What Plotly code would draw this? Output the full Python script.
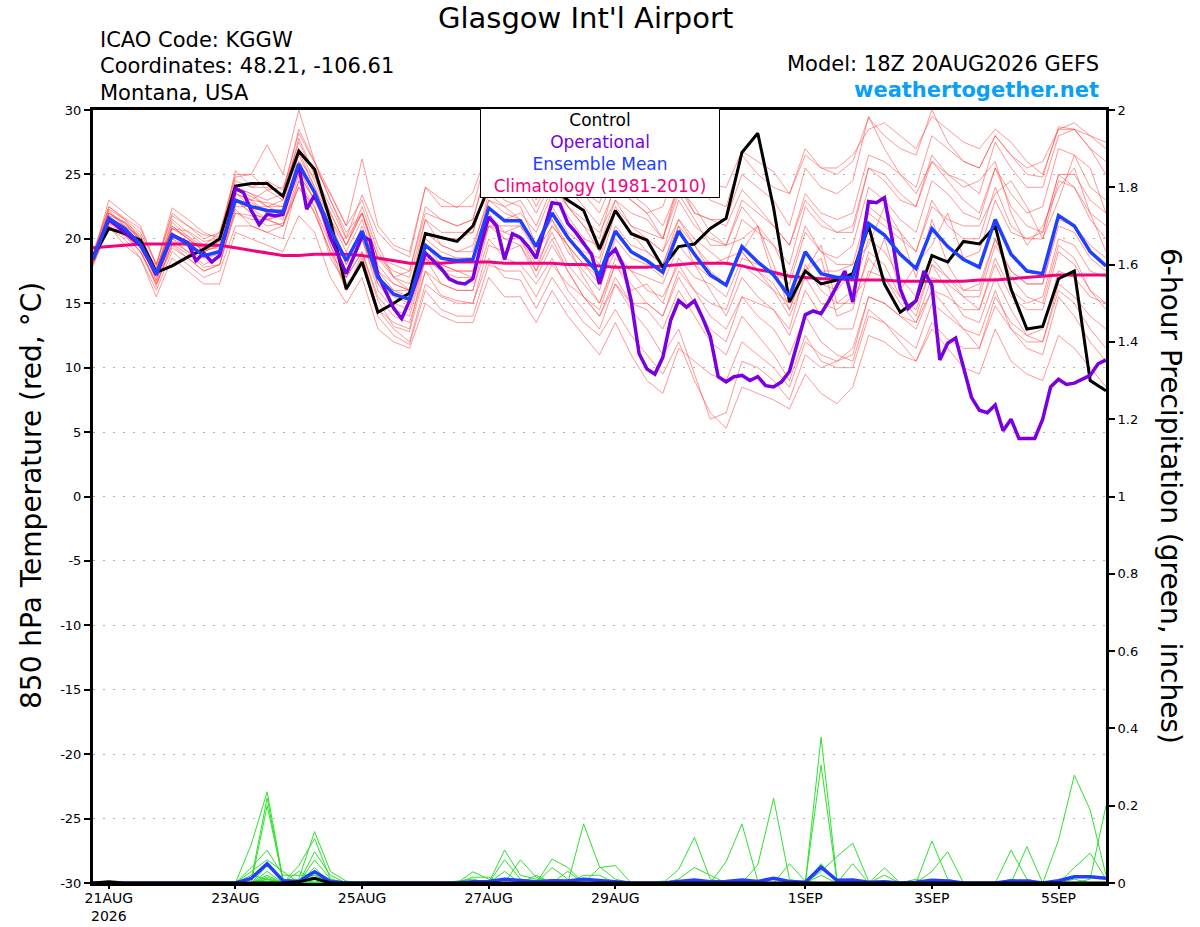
import pandas as pd
import plotly.graph_objects as go

# GEFS run 18Z 20AUG2026, 6-hourly steps out to 16 days (operational is 3-hourly)
times = pd.date_range("2026-08-20 18:00", periods=65, freq="6h")
op_times = pd.date_range("2026-08-20 18:00", periods=129, freq="3h")

# 850 hPa temperature (deg C)
control = [18.6, 20.8, 20.4, 19.9, 17.4, 17.9, 18.6, 19.2, 20.0, 24.1,
           24.3, 24.3, 23.3, 26.8, 25.4, 21.4, 16.1, 18.2, 14.3, 15.0,
           15.8, 20.4, 20.1, 19.8, 21.0, 24.0, 25.0, 24.5, 25.0, 24.0,
           23.0, 22.2, 19.2, 22.2, 20.4, 19.9, 17.8, 19.4, 19.6, 20.8,
           21.6, 26.7, 28.2, 22.4, 15.1, 17.5, 16.5, 16.8, 17.3, 21.0,
           16.5, 14.3, 15.2, 18.7, 18.2, 19.8, 19.6, 21.0, 16.1, 13.0,
           13.2, 16.9, 17.5, 9.0, 8.2]

ens_mean = [18.4, 21.6, 20.8, 19.6, 17.3, 20.3, 19.6, 18.7, 19.0, 23.0,
            22.5, 22.2, 22.1, 25.8, 23.6, 20.7, 18.3, 20.6, 17.0, 15.7,
            15.3, 19.5, 18.5, 18.3, 18.4, 22.4, 21.4, 21.4, 19.4, 22.0,
            20.1, 18.6, 17.2, 20.6, 19.0, 18.3, 17.4, 20.6, 18.8, 17.2,
            16.4, 19.4, 18.2, 17.2, 15.5, 19.0, 17.3, 17.0, 17.0, 21.2,
            20.3, 18.8, 17.7, 20.8, 19.4, 18.4, 17.8, 21.5, 18.8, 17.5,
            17.3, 21.8, 21.0, 19.0, 17.9]

climatology = [19.3, 19.4, 19.5, 19.6, 19.6, 19.6, 19.6, 19.5, 19.5, 19.3,
               19.1, 18.9, 18.7, 18.7, 18.8, 18.8, 18.8, 18.7, 18.5, 18.3,
               18.1, 18.1, 18.1, 18.2, 18.2, 18.2, 18.1, 18.1, 18.1, 18.1,
               18.0, 18.0, 17.9, 17.8, 17.8, 17.8, 17.9, 18.0, 18.1, 18.1,
               18.1, 17.9, 17.6, 17.4, 17.1, 17.0, 16.9, 16.9, 16.8, 16.8,
               16.8, 16.7, 16.7, 16.7, 16.7, 16.7, 16.8, 16.8, 16.9, 17.0,
               17.1, 17.2, 17.2, 17.2, 17.2]

operational = [18.5, 20.0, 21.5, 21.0, 20.5, 20.0, 19.5, 18.4, 17.2, 18.7,
               20.3, 20.0, 19.7, 18.3, 18.9, 18.2, 18.7, 21.0, 23.9, 23.6,
               22.2, 21.1, 21.9, 21.8, 21.9, 23.8, 25.7, 22.3, 23.4, 22.0,
               20.1, 18.7, 17.3, 18.7, 20.2, 19.9, 17.2, 15.9, 14.6, 13.8,
               15.2, 17.0, 18.9, 18.3, 17.7, 16.9, 16.6, 16.5, 16.9, 19.5,
               21.7, 21.0, 18.4, 20.4, 20.1, 19.4, 18.5, 20.7, 22.8, 22.7,
               21.2, 20.5, 19.7, 18.8, 16.5, 18.6, 19.2, 17.9, 15.2, 11.1,
               9.9, 9.5, 10.8, 13.7, 15.2, 14.7, 15.2, 13.9, 12.4, 9.3,
               8.9, 9.3, 9.4, 9.0, 9.3, 8.6, 8.5, 8.9, 9.7, 11.9,
               14.1, 14.4, 14.2, 15.2, 16.3, 17.5, 15.1, 19.0, 22.9, 22.8,
               23.2, 19.9, 16.1, 14.6, 15.2, 17.5, 16.4, 10.6, 11.9, 12.3,
               10.0, 7.7, 6.7, 6.5, 7.1, 5.1, 6.0, 4.5, 4.5, 4.5,
               6.0, 8.5, 9.1, 8.7, 8.8, 9.1, 9.4, 10.3, 10.6]

members = [
    [18.5, 22.0, 21.0, 20.2, 17.6, 21.3, 20.2, 19.4, 20.0, 24.5, 24.0, 24.5, 23.8, 28.2, 25.9, 23.0,
     20.1, 23.4, 20.5, 19.2, 18.6, 24.0, 23.1, 22.4, 23.6, 27.0, 26.2, 26.5, 24.2, 27.0, 25.0, 23.6,
     22.8, 26.0, 25.2, 24.6, 23.8, 26.8, 25.5, 24.2, 24.0, 26.8, 26.0, 25.2, 23.5, 26.5, 25.5, 25.0,
     26.0, 29.4, 28.0, 27.0, 26.5, 30.0, 27.5, 26.0, 25.5, 28.0, 26.5, 25.0, 24.8, 28.7, 28.5, 28.0, 27.5],
    [18.7, 22.0, 21.2, 20.0, 17.5, 20.8, 20.0, 19.2, 19.3, 23.6, 22.4, 21.5, 21.9, 26.0, 23.5, 19.5,
     17.0, 19.0, 15.2, 13.2, 12.8, 17.5, 15.6, 15.2, 15.0, 18.5, 17.0, 16.8, 14.6, 17.0, 15.2, 13.5,
     12.5, 14.5, 12.5, 11.0, 9.5, 12.0, 9.0, 6.5, 5.3, 8.5, 8.0, 7.5, 6.8, 9.5, 8.0, 7.2,
     8.5, 12.5, 12.0, 11.0, 10.5, 13.5, 12.2, 11.5, 11.5, 14.8, 13.0, 12.0, 12.0, 16.5, 15.5, 14.0, 13.0],
    [18.1, 21.2, 20.3, 19.0, 16.7, 19.6, 18.8, 17.8, 18.0, 22.3, 21.0, 20.5, 20.0, 24.5, 22.5, 19.5,
     16.0, 18.8, 14.5, 13.5, 13.0, 18.5, 17.5, 17.0, 17.0, 22.5, 21.5, 22.0, 20.5, 23.5, 21.8, 20.0,
     19.5, 23.0, 22.0, 21.5, 20.0, 24.5, 22.0, 21.5, 21.0, 23.8, 22.5, 21.0, 19.5, 23.0, 21.5, 20.5,
     20.5, 25.5, 24.5, 23.0, 22.5, 26.5, 25.0, 24.0, 24.5, 26.0, 22.0, 19.5, 21.0, 24.0, 25.5, 22.0, 19.0],
    [18.9, 22.5, 21.6, 20.8, 18.0, 22.0, 21.0, 20.3, 20.2, 24.8, 25.0, 23.8, 23.0, 27.8, 25.0, 22.0,
     19.5, 22.5, 19.0, 17.0, 17.5, 22.5, 21.5, 21.0, 21.5, 25.8, 25.0, 25.2, 23.0, 26.0, 24.0, 22.5,
     21.0, 24.0, 23.0, 22.0, 20.0, 23.5, 21.5, 19.5, 19.5, 20.0, 21.0, 17.0, 16.0, 17.5, 18.5, 14.0,
     14.5, 19.0, 18.0, 15.5, 14.0, 18.0, 16.0, 14.0, 13.5, 17.0, 14.5, 12.5, 12.0, 16.0, 15.0, 13.0, 11.5],
    [18.3, 21.2, 20.8, 19.5, 16.8, 20.0, 19.0, 18.5, 18.8, 22.0, 21.8, 21.0, 21.2, 24.0, 22.5, 18.5,
     16.5, 18.0, 14.0, 12.5, 11.8, 16.0, 14.5, 14.0, 14.0, 18.0, 17.5, 17.5, 15.5, 18.0, 16.5, 15.5,
     14.5, 18.0, 16.0, 16.5, 15.0, 18.5, 17.0, 16.5, 15.5, 18.5, 18.0, 17.5, 16.5, 20.5, 19.0, 18.5,
     19.5, 24.0, 23.0, 21.5, 20.5, 24.5, 23.5, 22.0, 21.5, 25.5, 23.5, 22.0, 22.5, 27.0, 26.5, 24.0, 23.0],
    [17.9, 21.0, 19.5, 18.5, 15.5, 18.5, 17.5, 16.5, 16.5, 20.5, 20.0, 19.5, 19.0, 21.8, 20.5, 17.0,
     15.0, 17.0, 13.0, 12.0, 11.5, 15.0, 14.0, 13.5, 13.5, 17.0, 15.5, 15.5, 13.5, 16.0, 14.0, 12.5,
     11.0, 13.5, 11.0, 9.0, 8.0, 11.5, 10.5, 9.5, 9.0, 12.0, 11.0, 10.0, 8.5, 12.0, 11.0, 10.5,
     11.5, 15.5, 15.0, 14.0, 13.0, 16.0, 15.5, 14.5, 14.5, 18.0, 15.5, 14.5, 14.5, 19.0, 18.0, 16.0, 15.0],
    [18.6, 22.0, 21.3, 19.8, 17.5, 21.0, 20.0, 19.0, 19.8, 23.5, 23.0, 23.8, 24.0, 27.0, 25.5, 23.5,
     21.0, 23.0, 19.5, 17.0, 16.0, 21.5, 19.5, 19.0, 19.0, 23.5, 22.5, 21.5, 19.0, 21.0, 19.5, 18.0,
     16.5, 19.0, 17.5, 16.0, 15.5, 18.0, 16.0, 14.0, 13.0, 15.5, 14.0, 13.0, 11.0, 14.0, 12.0, 11.0,
     10.5, 14.5, 13.5, 12.0, 10.5, 13.0, 11.5, 10.0, 9.5, 13.0, 10.5, 9.5, 9.0, 12.5, 11.5, 10.0, 8.5],
    [18.4, 21.8, 21.3, 20.3, 17.5, 21.5, 20.5, 19.5, 20.5, 24.0, 23.5, 22.5, 22.0, 26.5, 24.0, 21.0,
     18.0, 20.0, 16.0, 14.5, 14.0, 18.5, 16.5, 16.0, 16.0, 21.0, 20.5, 21.0, 19.0, 22.0, 20.0, 19.0,
     18.5, 22.5, 21.0, 20.5, 20.0, 24.0, 22.0, 21.5, 21.5, 25.0, 24.0, 23.0, 21.0, 25.5, 24.0, 23.5,
     24.5, 29.5, 27.0, 25.0, 23.5, 26.0, 24.5, 23.0, 22.0, 25.5, 22.5, 21.0, 20.5, 25.0, 24.0, 21.5, 20.0],
    [18.8, 21.5, 20.5, 19.0, 16.5, 19.5, 18.5, 17.5, 18.0, 22.5, 22.5, 22.5, 22.5, 27.0, 24.5, 21.5,
     19.5, 22.0, 18.5, 17.5, 17.0, 21.5, 20.5, 20.5, 20.5, 24.5, 23.0, 22.5, 19.5, 21.5, 19.5, 17.0,
     15.0, 18.0, 16.5, 15.0, 14.0, 17.0, 15.0, 13.0, 12.0, 15.5, 15.0, 14.5, 13.0, 17.5, 16.5, 16.0,
     17.5, 22.0, 21.0, 20.0, 19.0, 22.5, 21.5, 21.0, 21.0, 23.5, 24.5, 22.5, 20.0, 23.0, 26.5, 25.5, 22.0],
    [18.2, 21.3, 20.6, 19.9, 17.8, 20.8, 20.2, 19.0, 19.5, 23.0, 22.8, 22.0, 21.5, 25.5, 23.5, 20.0,
     17.5, 20.0, 16.5, 15.5, 15.0, 19.5, 18.5, 18.5, 18.5, 23.0, 22.5, 23.0, 21.0, 24.0, 22.5, 21.0,
     20.0, 24.5, 23.0, 22.0, 22.5, 26.0, 24.5, 23.0, 22.5, 26.5, 25.0, 24.0, 23.5, 27.0, 25.5, 25.5,
     26.5, 28.5, 29.0, 28.0, 27.0, 29.5, 28.5, 27.5, 27.0, 28.5, 27.5, 26.0, 25.0, 28.5, 28.5, 27.0, 25.0],
    [18.5, 22.3, 21.5, 20.5, 18.0, 21.8, 21.0, 20.0, 20.5, 25.0, 25.0, 27.3, 25.0, 30.0, 26.0, 23.5,
     21.0, 26.2, 21.0, 19.5, 19.0, 24.0, 22.5, 22.5, 22.5, 27.0, 25.5, 25.0, 22.5, 25.0, 22.5, 21.0,
     19.0, 22.0, 20.5, 19.0, 18.0, 21.0, 18.0, 16.0, 14.0, 17.0, 15.5, 14.5, 12.5, 16.0, 14.0, 13.0,
     13.0, 17.5, 17.0, 15.5, 14.5, 18.0, 17.0, 16.0, 16.0, 20.0, 17.5, 16.5, 16.5, 21.0, 20.5, 18.5, 17.5],
    [18.0, 20.8, 20.0, 18.5, 16.0, 19.0, 18.0, 17.0, 17.5, 21.0, 21.0, 20.5, 21.0, 24.0, 22.0, 19.0,
     17.0, 19.0, 15.5, 14.0, 13.5, 17.5, 16.5, 16.0, 16.0, 20.0, 18.5, 18.0, 16.5, 18.5, 16.0, 14.5,
     13.0, 16.5, 15.0, 15.0, 14.0, 17.5, 16.0, 15.0, 14.5, 18.0, 17.0, 16.0, 15.0, 19.0, 17.5, 17.5,
     18.0, 19.5, 22.5, 20.5, 17.0, 21.5, 18.0, 16.0, 16.5, 20.0, 17.0, 15.5, 15.0, 19.5, 18.5, 16.0, 14.5],
    [18.7, 22.2, 21.0, 20.0, 17.2, 20.5, 19.5, 18.8, 19.0, 23.5, 23.0, 22.8, 22.5, 26.0, 24.8, 22.0,
     19.5, 22.0, 18.5, 18.0, 17.5, 22.0, 21.5, 21.0, 21.5, 26.0, 25.5, 25.5, 23.5, 26.5, 25.0, 23.5,
     22.0, 25.0, 23.5, 22.5, 21.0, 24.0, 22.5, 20.5, 19.5, 22.5, 21.0, 19.5, 17.0, 21.0, 19.0, 18.0,
     18.0, 22.5, 21.5, 20.5, 19.0, 23.0, 21.0, 20.0, 20.0, 24.0, 21.0, 20.0, 20.0, 24.5, 24.0, 22.0, 21.0],
    [18.3, 21.6, 21.0, 19.5, 17.6, 20.3, 19.8, 19.3, 19.5, 23.0, 22.0, 21.5, 21.0, 24.5, 22.0, 19.0,
     16.0, 18.5, 14.5, 13.0, 12.0, 16.5, 15.5, 15.0, 15.0, 19.5, 19.0, 19.5, 17.5, 21.0, 19.5, 18.0,
     17.0, 21.0, 19.5, 19.0, 18.0, 21.5, 20.0, 19.0, 18.0, 21.5, 20.5, 19.5, 18.0, 22.5, 21.0, 20.5,
     21.0, 25.5, 25.0, 23.5, 22.5, 26.0, 25.0, 24.5, 23.5, 27.5, 25.5, 24.0, 24.0, 28.0, 28.5, 27.0, 26.0],
    [18.6, 23.0, 22.0, 21.0, 18.0, 22.4, 21.5, 20.5, 20.0, 25.3, 24.0, 24.0, 23.5, 28.5, 26.0, 23.0,
     20.5, 22.0, 18.5, 17.0, 16.5, 20.0, 19.0, 18.5, 18.5, 22.0, 20.5, 20.0, 17.5, 20.0, 17.5, 15.5,
     14.0, 17.0, 15.0, 14.5, 13.0, 16.0, 14.0, 12.0, 11.0, 14.0, 12.5, 11.0, 9.0, 12.5, 10.5, 10.0,
     10.0, 14.0, 13.5, 12.5, 11.5, 15.0, 14.0, 13.0, 12.5, 16.0, 13.0, 11.5, 11.0, 15.5, 14.0, 12.0, 10.5],
    [18.1, 21.0, 20.3, 19.3, 16.3, 19.8, 19.0, 18.0, 18.5, 23.0, 22.0, 21.5, 21.8, 25.5, 23.0, 21.5,
     18.0, 21.0, 17.5, 16.5, 16.0, 20.5, 19.5, 19.0, 19.5, 23.0, 22.0, 21.5, 19.5, 21.5, 19.0, 17.5,
     16.0, 20.0, 18.5, 18.0, 17.0, 21.0, 19.5, 18.0, 18.5, 19.0, 21.0, 18.0, 14.5, 17.5, 19.5, 15.0,
     16.0, 20.0, 19.0, 17.0, 15.5, 18.5, 17.0, 15.5, 14.5, 18.5, 16.0, 15.0, 15.5, 20.0, 19.5, 17.5, 17.0],
    [18.5, 21.8, 20.6, 19.4, 17.0, 20.0, 19.4, 18.6, 19.2, 23.8, 23.3, 22.5, 23.0, 26.8, 24.0, 21.5,
     19.0, 21.5, 17.5, 16.0, 15.5, 19.0, 18.0, 17.5, 17.0, 21.0, 20.0, 19.5, 17.0, 19.5, 17.5, 15.5,
     14.0, 16.5, 14.5, 13.0, 11.0, 13.0, 9.5, 6.0, 6.5, 10.5, 10.0, 9.0, 7.5, 11.0, 10.0, 10.5,
     11.0, 15.5, 15.0, 14.0, 13.5, 17.0, 16.5, 15.5, 15.5, 19.5, 17.5, 16.5, 16.5, 21.5, 21.0, 19.5, 18.5],
    [18.8, 22.5, 21.5, 20.0, 17.7, 20.8, 20.6, 19.8, 20.0, 24.0, 23.0, 22.0, 22.3, 25.0, 23.0, 20.5,
     17.0, 20.0, 17.0, 16.0, 16.0, 20.5, 20.0, 20.0, 20.5, 24.5, 24.0, 24.0, 22.0, 24.5, 22.5, 21.5,
     20.5, 23.0, 21.0, 20.0, 19.0, 21.5, 19.5, 17.5, 16.5, 19.0, 17.5, 16.0, 14.0, 17.0, 15.0, 14.5,
     15.5, 17.0, 20.0, 16.0, 18.0, 19.5, 22.0, 18.5, 19.0, 23.0, 20.5, 20.0, 20.5, 25.0, 25.0, 23.0, 22.0],
    [18.2, 21.0, 20.2, 19.0, 16.5, 19.3, 18.5, 17.5, 18.0, 22.0, 21.5, 21.5, 21.0, 25.0, 23.0, 20.5,
     18.5, 20.5, 16.5, 15.0, 14.5, 18.5, 17.5, 17.5, 17.5, 21.0, 21.0, 21.0, 19.5, 22.5, 20.5, 19.5,
     18.0, 22.0, 20.5, 20.0, 19.0, 23.0, 21.0, 20.0, 19.5, 23.0, 22.0, 21.0, 19.5, 23.5, 22.0, 21.5,
     22.0, 26.5, 26.0, 25.0, 24.0, 28.0, 27.0, 26.0, 25.5, 28.0, 26.5, 25.5, 26.0, 28.5, 29.0, 28.0, 27.0],
    [18.4, 22.0, 21.2, 20.0, 17.3, 21.0, 20.0, 19.0, 19.5, 24.0, 23.5, 23.0, 23.5, 27.5, 25.0, 22.5,
     20.0, 22.0, 18.0, 16.5, 16.0, 19.5, 18.0, 17.5, 17.5, 21.5, 20.0, 20.0, 18.0, 20.5, 18.0, 16.5,
     15.0, 18.5, 17.5, 17.0, 16.5, 19.5, 18.0, 17.0, 16.5, 19.0, 17.5, 16.5, 14.5, 18.0, 16.0, 15.0,
     15.0, 18.5, 17.0, 15.0, 13.5, 16.0, 14.5, 13.0, 11.5, 15.5, 13.5, 12.5, 13.0, 17.5, 17.0, 15.5, 15.0],
]

# 6-hour precipitation (inches); members listed as {step: amount}, other steps are dry
precip_members = [
    {10: 0.10, 11: 0.236, 12: 0.01, 14: 0.081, 15: 0.02, 37: 0.035, 38: 0.118, 39: 0.01},
    {10: 0.04, 11: 0.085, 12: 0.02, 13: 0.02, 14: 0.02, 24: 0.029, 25: 0.01, 53: 0.109, 54: 0.01},
    {10: 0.03, 11: 0.06, 12: 0.03, 14: 0.03, 26: 0.085, 27: 0.02, 28: 0.01},
    {10: 0.02, 11: 0.01, 14: 0.01, 37: 0.01, 38: 0.04, 39: 0.02},
    {10: 0.01, 11: 0.22, 12: 0.005, 26: 0.06, 27: 0.01, 42: 0.047, 43: 0.219, 44: 0.01},
    {11: 0.20, 12: 0.01, 13: 0.005, 31: 0.153, 32: 0.042, 33: 0.01},
    {11: 0.045, 12: 0.005, 31: 0.02, 32: 0.02, 62: 0.04, 63: 0.077, 64: 0.01},
    {11: 0.03, 13: 0.01, 14: 0.133, 15: 0.03, 16: 0.005, 63: 0.01, 64: 0.2},
    {11: 0.02, 14: 0.02, 40: 0.055, 41: 0.153, 42: 0.005},
    {11: 0.01, 13: 0.045, 14: 0.115, 15: 0.01, 53: 0.03, 54: 0.081},
    {11: 0.01, 13: 0.03, 14: 0.01, 32: 0.04, 33: 0.045, 58: 0.085, 59: 0.01},
    {11: 0.015, 14: 0.06, 15: 0.01, 59: 0.094},
    {11: 0.01, 14: 0.04, 44: 0.05, 45: 0.005, 61: 0.111, 62: 0.279, 63: 0.189, 64: 0.02},
    {11: 0.005, 24: 0.015, 25: 0.015, 46: 0.377, 47: 0.01},
    {14: 0.005, 26: 0.03, 46: 0.305, 47: 0.005},
    {11: 0.005, 27: 0.06, 28: 0.015, 46: 0.05},
    {28: 0.02, 46: 0.03, 47: 0.068, 48: 0.103, 49: 0.005},
    {29: 0.062, 30: 0.04, 36: 0.005, 48: 0.05},
    {29: 0.04, 30: 0.01, 50: 0.039, 52: 0.01},
    {23: 0.005, 24: 0.01, 30: 0.03, 46: 0.02, 50: 0.02, 58: 0.01, 62: 0.01},
]

precip_mean = [0, 0, 0, 0, 0, 0, 0, 0, 0, 0,
               0.012, 0.05, 0.006, 0.004, 0.029, 0.004, 0, 0, 0, 0,
               0, 0, 0, 0, 0.003, 0.004, 0.01, 0.006, 0.003, 0.006,
               0.005, 0.01, 0.006, 0.003, 0, 0, 0, 0.004, 0.008, 0.003,
               0.004, 0.008, 0.004, 0.012, 0.004, 0.002, 0.041, 0.007, 0.008, 0.002,
               0.003, 0, 0.002, 0.007, 0.005, 0, 0, 0, 0.005, 0.005,
               0, 0.006, 0.016, 0.016, 0.012]

precip_control = [0, 0.003, 0, 0, 0, 0, 0, 0, 0, 0,
                  0, 0, 0, 0.003, 0.012, 0, 0, 0, 0, 0,
                  0, 0, 0, 0, 0, 0, 0, 0, 0, 0,
                  0, 0, 0, 0, 0, 0, 0, 0, 0, 0,
                  0, 0, 0, 0, 0, 0, 0, 0, 0, 0,
                  0, 0, 0, 0, 0, 0, 0, 0, 0, 0,
                  0, 0, 0, 0, 0]

tick_dates = ["2026-08-21", "2026-08-23", "2026-08-25", "2026-08-27",
              "2026-08-29", "2026-09-01", "2026-09-03", "2026-09-05"]
tick_text = ["21AUG<br>2026", "23AUG", "25AUG", "27AUG", "29AUG", "1SEP", "3SEP", "5SEP"]
temp_ticks = [30, 25, 20, 15, 10, 5, 0, -5, -10, -15, -20, -25, -30]

RED = "rgba(255,70,70,0.7)"
GREEN = "rgb(45,225,45)"
PURPLE = "#7a00e0"
BLUE = "#2040ff"
PINK = "#f0047f"
FONT = "DejaVu Sans"

fig = go.Figure()

for m in members:
    fig.add_trace(go.Scatter(x=times, y=m, mode="lines",
                             line=dict(color=RED, width=0.8), hoverinfo="skip"))

for pm in precip_members:
    vals = [pm.get(k, 0) for k in range(len(times))]
    fig.add_trace(go.Scatter(x=times, y=vals, mode="lines", yaxis="y2",
                             line=dict(color=GREEN, width=1), hoverinfo="skip"))

fig.add_trace(go.Scatter(x=times, y=climatology, mode="lines", line=dict(color=PINK, width=3)))
fig.add_trace(go.Scatter(x=times, y=control, mode="lines", line=dict(color="black", width=3)))
fig.add_trace(go.Scatter(x=op_times, y=operational, mode="lines", line=dict(color=PURPLE, width=3.5)))
fig.add_trace(go.Scatter(x=times, y=ens_mean, mode="lines", line=dict(color=BLUE, width=3.5)))
fig.add_trace(go.Scatter(x=times, y=precip_mean, mode="lines", yaxis="y2",
                         line=dict(color=BLUE, width=3.5)))
fig.add_trace(go.Scatter(x=times, y=precip_control, mode="lines", yaxis="y2",
                         line=dict(color="black", width=3)))

def px_y(ypx):
    # pixel row -> paper fraction (plot area spans rows 110..883)
    return (883 - ypx) / 773

def px_x(xpx):
    return (xpx - 93) / 1013

legend_text = ("Control<br>"
               f"<span style='color:{PURPLE}'>Operational</span><br>"
               f"<span style='color:{BLUE}'>Ensemble Mean</span><br>"
               f"<span style='color:{PINK}'>Climatology (1981-2010)</span>")

annotations = [
    dict(text="Glasgow Int'l Airport", x=px_x(585), y=px_y(18), font=dict(size=29)),
    dict(text="ICAO Code: KGGW", x=px_x(98), y=px_y(40), xanchor="left", font=dict(size=21)),
    dict(text="Coordinates: 48.21, -106.61", x=px_x(98), y=px_y(66), xanchor="left", font=dict(size=21)),
    dict(text="Montana, USA", x=px_x(98), y=px_y(93), xanchor="left", font=dict(size=21)),
    dict(text="Model: 18Z 20AUG2026 GEFS", x=px_x(1101), y=px_y(64), xanchor="right", font=dict(size=21)),
    dict(text="<b>weathertogether.net</b>", x=px_x(1101), y=px_y(90), xanchor="right",
         font=dict(size=21, color="#0aa0f5")),
    dict(text="850 hPa Temperature (red, °C)", x=px_x(31), y=px_y(496), textangle=-90, font=dict(size=28)),
    dict(text="6-hour Precipitation (green, inches)", x=px_x(1171), y=px_y(496), textangle=90,
         font=dict(size=28)),
    dict(text=legend_text, x=px_x(600), y=px_y(108), yanchor="top", width=236, height=86,
         bgcolor="white", bordercolor="black", borderwidth=1, borderpad=1, font=dict(size=17)),
]
for a in annotations:
    a.setdefault("xref", "paper")
    a.setdefault("yref", "paper")
    a.setdefault("showarrow", False)
    a.setdefault("xanchor", "center")
    a.setdefault("yanchor", "middle")

fig.update_layout(
    width=1200, height=927,
    margin=dict(l=93, r=94, t=110, b=44, autoexpand=False),
    paper_bgcolor="white", plot_bgcolor="white",
    font=dict(family=FONT, color="black"),
    showlegend=False,
    annotations=annotations,
    xaxis=dict(range=[times[0], times[-1]], tickvals=pd.to_datetime(tick_dates), ticktext=tick_text,
               showgrid=False, showline=True, linecolor="black", linewidth=3, mirror=True,
               ticks="outside", ticklen=3, tickwidth=1.5, tickcolor="black",
               ticklabelstandoff=-3, tickfont=dict(size=14), automargin=False),
    yaxis=dict(range=[-30, 30], tickvals=temp_ticks, ticktext=[str(t) for t in temp_ticks],
               showline=True, linecolor="black", linewidth=3,
               ticks="outside", ticklen=6, tickwidth=1.5, tickcolor="black",
               showgrid=True, gridcolor="#b0b0b0", gridwidth=1, griddash="2px,8px",
               zeroline=False, tickfont=dict(size=13), automargin=False),
    yaxis2=dict(range=[0, 2], dtick=0.2, overlaying="y", side="right",
                showline=True, linecolor="black", linewidth=3, showgrid=False, zeroline=False,
                ticks="outside", ticklen=6, tickwidth=1.5, tickcolor="black",
                tickfont=dict(size=13), automargin=False),
)

# page body has a default 8px margin; drop it so the figure sits at the window's corner
fig.write_html("out.html", config={"displayModeBar": False},
               post_script="document.body.style.margin='0px';")
